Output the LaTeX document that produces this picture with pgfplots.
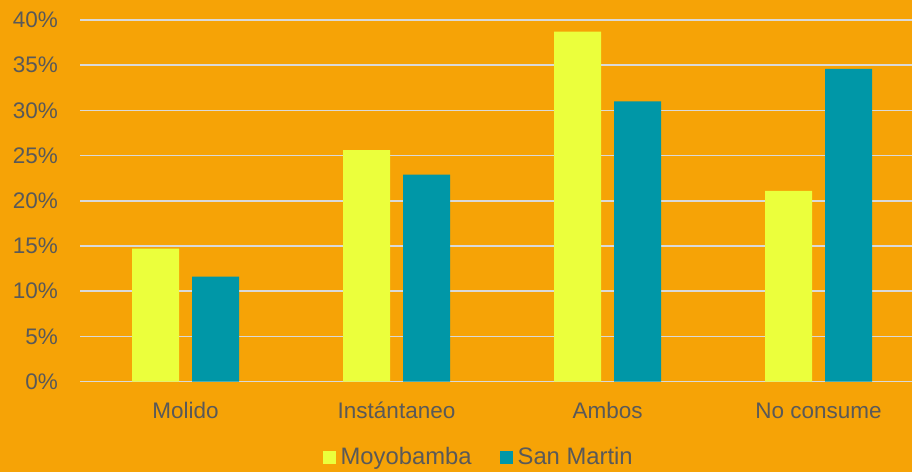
\documentclass[border=0pt]{standalone}
\usepackage{pgfplots}
\pgfplotsset{compat=1.18}
\usepackage{fontspec}
\setmainfont{Liberation Sans}
\definecolor{bg}{HTML}{F6A306}
\definecolor{yel}{HTML}{EBFF3C}
\definecolor{teal2}{HTML}{0097A7}
\definecolor{txt}{HTML}{595959}
\definecolor{gridc}{HTML}{D9D9D9}
\begin{document}
\begin{tikzpicture}[x=1pt,y=1pt]
\useasboundingbox (0,0) rectangle (912,472);
\fill[bg] (0,0) rectangle (912,472);
\begin{axis}[
  at={(80pt,90.5pt)}, anchor=south west,
  scale only axis, width=832pt, height=361.5pt,
  xmin=-0.5, xmax=3.443, ymin=0, ymax=40,
  ybar=13pt, bar width=47pt,
  axis line style={draw=none},
  major tick length=0pt,
  ymajorgrids, grid style={gridc, line width=1.6pt},
  ytick={0,5,...,40},
  yticklabels={0\%,5\%,10\%,15\%,20\%,25\%,30\%,35\%,40\%},
  xtick={0,1,2,3},
  xticklabels={Molido,Instántaneo,Ambos,No consume},
  font=\fontsize{22.5}{27}\selectfont,
  tick label style={text=txt},
  yticklabel style={anchor=east, inner sep=0pt, xshift=-22pt},
  xticklabel style={anchor=base, inner sep=0pt, yshift=-36.5pt},
  legend columns=2,
  legend style={at={(0.478,-0.208)}, anchor=center, draw=none, fill=none,
    text=txt, font=\fontsize{23.8}{27}\selectfont,
    nodes={inner sep=0pt},
    /tikz/every odd column/.append style={column sep=5pt},
    /tikz/every even column/.append style={column sep=28pt}},
  legend image code/.code={\fill[#1] (0pt,-7pt) rectangle (13pt,6pt);},
  clip=false,
]
\addplot[fill=yel, draw=none] coordinates {(0,14.7) (1,25.6) (2,38.7) (3,21.1)};
\addplot[fill=teal2, draw=none] coordinates {(0,11.6) (1,22.9) (2,31.0) (3,34.6)};
\legend{Moyobamba,San Martin}
\end{axis}
\end{tikzpicture}
\end{document}
